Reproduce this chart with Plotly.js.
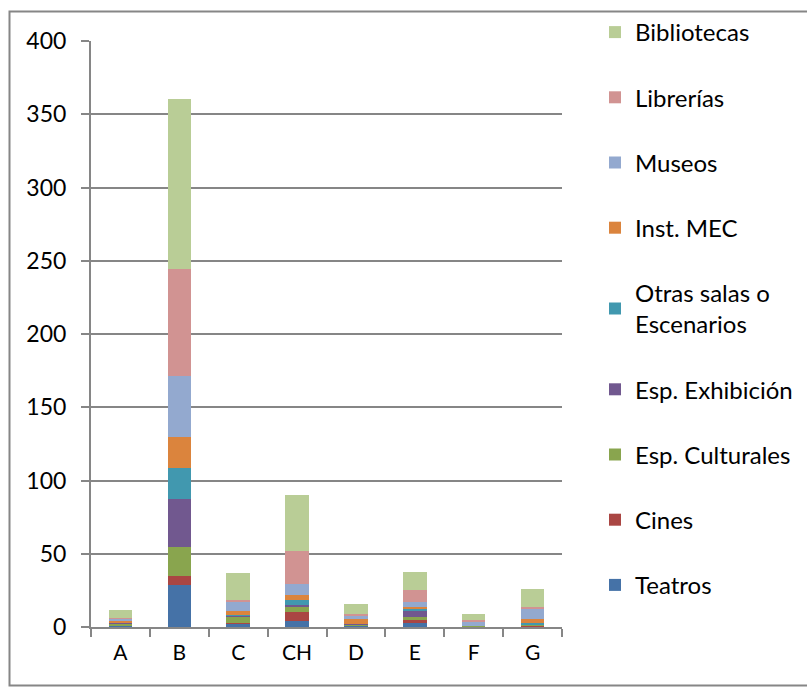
<!DOCTYPE html>
<html>
<head>
<meta charset="utf-8">
<script src="https://cdn.plot.ly/plotly-3.0.1.min.js"></script>
<style>
html,body{margin:0;padding:0;background:#fff;}
#chart{width:807px;height:687px;}
</style>
</head>
<body>
<div id="chart"></div>
<script>
const categories = ['A','B','C','CH','D','E','F','G'];
const teatros     = [0.5, 29,   2,   4,    0.4, 2.9, 0.2, 0.3];
const cines       = [0.3, 6,    1,   6.5,  0.3, 1.6, 0.1, 0.2];
const culturales  = [1,   19.5, 3.5, 3.2,  0.8, 2.5, 0.2, 0.8];
const exhibicion  = [0.7, 33,   1,   1.2,  0.3, 4,   0.1, 0.2];
const otras       = [0.3, 21,   1,   3.8,  0.5, 1.1, 0.1, 0.9];
const mec         = [1.2, 21,   2.7, 3.2,  3,   1.4, 0.3, 3.2];
const museos      = [1.2, 42,   6,   7.7,  2.5, 3.4, 2.2, 7];
const librerias   = [1.2, 73,   1,   22.3, 1.3, 8.2, 1.5, 1.2];
const bibliotecas = [5.5, 116,  18.5,38,   6.5, 12.5,4.5, 12];
const yTicks = [0,50,100,150,200,250,300,350,400];

const series = [
  ['Teatros', teatros, '#4572A7'],
  ['Cines', cines, '#AA4643'],
  ['Esp. Culturales', culturales, '#89A54E'],
  ['Esp. Exhibición', exhibicion, '#71588F'],
  ['Otras salas o<br>Escenarios', otras, '#4198AF'],
  ['Inst. MEC', mec, '#DB843D'],
  ['Museos', museos, '#93A9CF'],
  ['Librerías', librerias, '#D19392'],
  ['Bibliotecas', bibliotecas, '#B9CD96']
];

const traces = series.map((s, i) => ({
  type: 'bar',
  name: s[0],
  x: categories,
  y: s[1],
  legendgroup: 'g' + i,
  legendrank: 1000 - i,
  marker: {color: s[2], line: {width: 0}},
  hoverinfo: 'x+y+name'
}));

// Plot area: x 91..562, y 41..627
const L = 91, R = 562, T = 41, B = 627;
const W = R - L, H = B - T;
const px = v => (v - L) / W;
const py = v => (B - v) / H;

const layout = {
  width: 807, height: 687,
  margin: {l: L, r: 807 - R, t: T, b: 687 - B, pad: 0, autoexpand: false},
  paper_bgcolor: '#ffffff',
  plot_bgcolor: '#ffffff',
  barmode: 'stack',
  bargap: 0.6,
  font: {family: 'Lato, "Open Sans", sans-serif', size: 22, color: '#000'},
  showlegend: true,
  legend: {
    traceorder: 'grouped',
    x: px(595), xanchor: 'left',
    y: py(10), yanchor: 'top',
    font: {size: 24, color: '#000'},
    tracegroupgap: 31,
    itemwidth: 30,
    maxheight: 687,
    bgcolor: 'rgba(0,0,0,0)'
  },
  xaxis: {
    type: 'category',
    showgrid: false,
    showline: true, linecolor: '#868686', linewidth: 2,
    ticks: 'outside', tickson: 'boundaries', ticklen: 8, tickwidth: 2, tickcolor: '#868686',
    ticklabelstandoff: 6,
    tickfont: {size: 21},
    automargin: false,
    fixedrange: true
  },
  yaxis: {
    range: [0, 400],
    tickvals: yTicks,
    showgrid: true, gridcolor: '#868686', gridwidth: 2,
    showline: true, linecolor: '#868686', linewidth: 2,
    ticks: 'outside', ticklen: 8, tickwidth: 2, tickcolor: '#868686',
    ticklabelstandoff: 10,
    tickfont: {size: 23},
    zeroline: false,
    automargin: false,
    fixedrange: true
  },
  shapes: [{
    type: 'rect', xref: 'paper', yref: 'paper',
    x0: px(9.5), x1: px(840), y0: py(685.5), y1: py(11.5),
    line: {color: '#868686', width: 2}, fillcolor: 'rgba(0,0,0,0)', layer: 'below'
  }]
};

Plotly.newPlot('chart', traces, layout, {displayModeBar: false, staticPlot: true});
</script>
</body>
</html>
